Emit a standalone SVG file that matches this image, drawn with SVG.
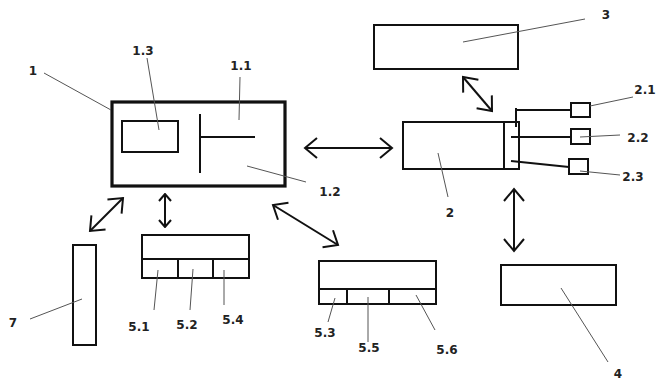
<svg xmlns="http://www.w3.org/2000/svg" width="657" height="383" viewBox="0 0 657 383">
<style>
.box{fill:none;stroke:#111;stroke-width:2}
.thick{fill:none;stroke:#111;stroke-width:3.2}
.ln{fill:none;stroke:#111;stroke-width:2}
.ld{fill:none;stroke:#555;stroke-width:1}
.arr{fill:none;stroke:#111;stroke-width:2}
.t{font-family:"DejaVu Sans",Verdana,sans-serif;font-size:12px;font-weight:bold;fill:#222;text-anchor:middle}
</style>
<defs>
<marker id="ah" viewBox="0 0 16 24" refX="14" refY="12" markerWidth="16" markerHeight="24" markerUnits="userSpaceOnUse" orient="auto-start-reverse">
<path d="M2,2 L14,12 L2,22" fill="none" stroke="#111" stroke-width="2"/>
</marker>
<marker id="as" viewBox="0 0 10 14" refX="9" refY="7" markerWidth="10" markerHeight="14" markerUnits="userSpaceOnUse" orient="auto-start-reverse">
<path d="M2,1 L9,7 L2,13" fill="none" stroke="#111" stroke-width="2"/>
</marker>
</defs>
<rect width="657" height="383" fill="#fff"/>

<g id="node1">
<rect class="thick" x="112" y="102" width="173" height="84"/>
<rect class="box" x="122" y="121" width="56" height="31"/>
<line class="ln" x1="200" y1="114" x2="200" y2="173"/>
<line class="ln" x1="200" y1="137" x2="255" y2="137"/>
<text class="t" x="33" y="75">1</text>
<line class="ld" x1="44" y1="73" x2="111" y2="110"/>
<text class="t" x="143" y="55">1.3</text>
<line class="ld" x1="147" y1="58" x2="159" y2="130"/>
<text class="t" x="241" y="70">1.1</text>
<line class="ld" x1="240" y1="77" x2="239" y2="120"/>
<text class="t" x="330" y="196">1.2</text>
<line class="ld" x1="247" y1="166" x2="306" y2="182"/>
</g>

<g id="node2">
<rect class="box" x="403" y="122" width="116" height="47"/>
<line class="ln" x1="504" y1="122" x2="504" y2="169"/>
<text class="t" x="450" y="217">2</text>
<line class="ld" x1="438" y1="153" x2="448" y2="197"/>
</g>

<g id="node2-1">
<rect class="box" x="571" y="103" width="19" height="14"/>
<text class="t" x="645" y="94">2.1</text>
<line class="ld" x1="590" y1="106" x2="633" y2="97"/>
</g>
<g id="node2-2">
<rect class="box" x="571" y="129" width="19" height="15"/>
<text class="t" x="638" y="142">2.2</text>
<line class="ld" x1="580" y1="137" x2="620" y2="135"/>
</g>
<g id="node2-3">
<rect class="box" x="569" y="159" width="19" height="15"/>
<text class="t" x="633" y="181">2.3</text>
<line class="ld" x1="580" y1="171" x2="620" y2="175"/>
</g>

<g id="node3">
<rect class="box" x="374" y="25" width="144" height="44"/>
<text class="t" x="606" y="19">3</text>
<line class="ld" x1="463" y1="42" x2="585" y2="19"/>
</g>

<g id="node4">
<rect class="box" x="501" y="265" width="115" height="40"/>
<text class="t" x="618" y="378">4</text>
<line class="ld" x1="561" y1="288" x2="608" y2="362"/>
</g>

<g id="node5a">
<rect class="box" x="142" y="235" width="107" height="43"/>
<line class="ln" x1="142" y1="259" x2="249" y2="259"/>
<line class="ln" x1="178" y1="259" x2="178" y2="278"/>
<line class="ln" x1="213" y1="259" x2="213" y2="278"/>
<text class="t" x="139" y="331">5.1</text>
<line class="ld" x1="158" y1="270" x2="154" y2="310"/>
<text class="t" x="187" y="329">5.2</text>
<line class="ld" x1="193" y1="269" x2="190" y2="310"/>
<text class="t" x="233" y="324">5.4</text>
<line class="ld" x1="224" y1="270" x2="224" y2="305"/>
</g>

<g id="node5b">
<rect class="box" x="319" y="261" width="117" height="43"/>
<line class="ln" x1="319" y1="289" x2="436" y2="289"/>
<line class="ln" x1="347" y1="289" x2="347" y2="304"/>
<line class="ln" x1="389" y1="289" x2="389" y2="304"/>
<text class="t" x="325" y="337">5.3</text>
<line class="ld" x1="335" y1="298" x2="328" y2="322"/>
<text class="t" x="369" y="352">5.5</text>
<line class="ld" x1="368" y1="297" x2="368" y2="342"/>
<text class="t" x="447" y="354">5.6</text>
<line class="ld" x1="416" y1="295" x2="435" y2="330"/>
</g>

<g id="node7">
<rect class="box" x="73" y="245" width="23" height="100"/>
<text class="t" x="13" y="327">7</text>
<line class="ld" x1="30" y1="319" x2="82" y2="299"/>
</g>

<g id="connectors">
<line class="arr" x1="305" y1="148" x2="392" y2="148" marker-start="url(#ah)" marker-end="url(#ah)"/>
<line class="ln" x1="516" y1="108" x2="516" y2="127"/>
<line class="ln" x1="516" y1="110" x2="571" y2="110"/>
<line class="ln" x1="511" y1="137" x2="571" y2="137"/>
<line class="ln" x1="511" y1="161" x2="569" y2="167"/>
<line class="arr" x1="463" y1="77" x2="492" y2="111" marker-start="url(#ah)" marker-end="url(#ah)"/>
<line class="arr" x1="514" y1="189" x2="514" y2="251" marker-start="url(#ah)" marker-end="url(#ah)"/>
<line class="arr" x1="90" y1="231" x2="123" y2="198" marker-start="url(#ah)" marker-end="url(#ah)"/>
<line class="arr" x1="165" y1="194" x2="165" y2="227" marker-start="url(#as)" marker-end="url(#as)"/>
<line class="arr" x1="273" y1="205" x2="338" y2="245" marker-start="url(#ah)" marker-end="url(#ah)"/>
</g>
</svg>
